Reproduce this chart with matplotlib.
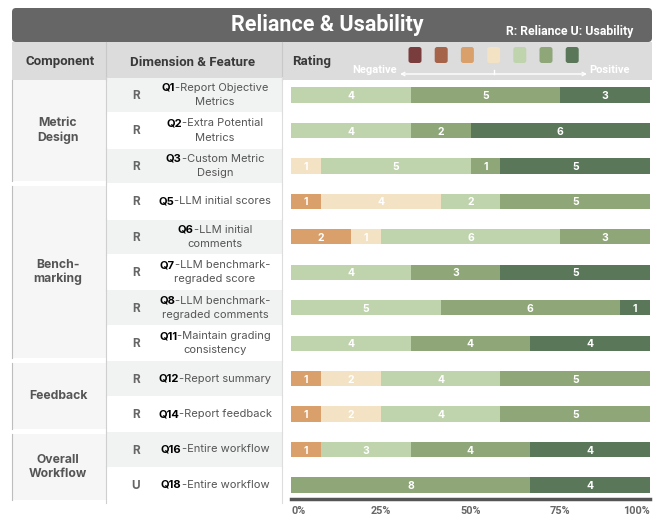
import numpy as np
import matplotlib
matplotlib.use('Agg')
import matplotlib.pyplot as plt
from matplotlib.patches import FancyBboxPatch, Rectangle
from matplotlib.offsetbox import TextArea, HPacker, VPacker, AnnotationBbox

plt.rcParams['font.family'] = ['Inter', 'DejaVu Sans']

# data
questions = ['Q1', 'Q2', 'Q3', 'Q5', 'Q6', 'Q7', 'Q8', 'Q11', 'Q12', 'Q14', 'Q16', 'Q18']
kinds = ['R', 'R', 'R', 'R', 'R', 'R', 'R', 'R', 'R', 'R', 'R', 'U']
features = [
    ['-Report Objective', 'Metrics'],
    ['-Extra Potential', 'Metrics'],
    ['-Custom Metric', 'Design'],
    ['-LLM initial scores'],
    ['-LLM initial', 'comments'],
    ['-LLM benchmark-', 'regraded score'],
    ['-LLM benchmark-', 'regraded comments'],
    ['-Maintain grading', 'consistency'],
    ['-Report summary'],
    ['-Report feedback'],
    ['-Entire workflow'],
    ['-Entire workflow'],
]
components = ['Metric\nDesign', 'Bench-\nmarking', 'Feedback', 'Overall\nWorkflow']
comp_rows = [(0, 2), (3, 7), (8, 9), (10, 11)]
# counts for rating levels 1..7 (negative -> positive)
counts = np.array([
    [0, 0, 0, 0, 4, 5, 3],
    [0, 0, 0, 0, 4, 2, 6],
    [0, 0, 0, 1, 5, 1, 5],
    [0, 0, 1, 4, 2, 5, 0],
    [0, 0, 2, 1, 6, 3, 0],
    [0, 0, 0, 0, 4, 3, 5],
    [0, 0, 0, 0, 5, 6, 1],
    [0, 0, 0, 0, 4, 4, 4],
    [0, 0, 1, 2, 4, 5, 0],
    [0, 0, 1, 2, 4, 5, 0],
    [0, 0, 1, 0, 3, 4, 4],
    [0, 0, 0, 0, 0, 8, 4],
])
colors = ['#7a3d3d', '#a5644a', '#d9a06b', '#f3e2c3', '#bfd4ad', '#8ea678', '#5a775a']
ticks = [0, 0.25, 0.5, 0.75, 1.0]
tick_labels = ['0%', '25%', '50%', '75%', '100%']

fig = plt.figure(figsize=(6.6, 5.16), dpi=100)
bg = fig.add_axes([0, 0, 1, 1])
bg.set_xlim(0, 660)
bg.set_ylim(516, 0)
bg.axis('off')

y0, dy = 95, 35.45
def rowc(i):
    return y0 + i * dy

roboto = ['Roboto', 'DejaVu Sans']

# title bar
bg.add_patch(FancyBboxPatch((12, 8), 640, 34, boxstyle='round,pad=0,rounding_size=4',
                            fc='#666666', ec='none'))
bg.text(327, 25, 'Reliance & Usability', color='white', fontsize=15.5, fontweight='bold',
        ha='center', va='center', family=roboto)
bg.text(633, 31, 'R: Reliance U: Usability', color='white', fontsize=8.8, fontweight='bold',
        ha='right', va='center', family=roboto)

# header row
bg.add_patch(Rectangle((12, 42), 640, 38, fc='#dcdcdc', ec='none'))
bg.plot([106, 106], [42, 80], color='#c8c8c8', lw=0.8)
bg.plot([282, 282], [42, 80], color='#c8c8c8', lw=0.8)
hdr = dict(color='#3a3a3a', fontsize=9.5, fontweight='bold', va='center', family=roboto)
bg.text(60, 62, 'Component', ha='center', **hdr)
bg.text(193, 62, 'Dimension & Feature', ha='center', **hdr)
bg.text(292, 62, 'Rating', ha='left', **hdr)

# legend swatches
for k, c in enumerate(colors):
    cx = 415 + k * 26.2
    bg.add_patch(FancyBboxPatch((cx - 6.5, 47), 13, 16, boxstyle='round,pad=0,rounding_size=2.5',
                                fc=c, ec='none'))
bg.annotate('', xy=(400, 74), xytext=(587, 74),
            arrowprops=dict(arrowstyle='<->', color='white', lw=1, shrinkA=0, shrinkB=0,
                            mutation_scale=6))
bg.plot([494, 494], [70, 74], color='white', lw=1)
bg.text(375, 70, 'Negative', color='white', fontsize=8, fontweight='bold', ha='center',
        va='center', family=roboto)
bg.text(610, 70, 'Positive', color='white', fontsize=8, fontweight='bold', ha='center',
        va='center', family=roboto)

# component column
gaps = 2.5
for (a, b), name in zip(comp_rows, components):
    top = rowc(a) - dy / 2 + gaps
    bot = rowc(b) + dy / 2 - gaps
    if a == 0:
        top = 80
    bg.add_patch(Rectangle((12, top), 94, bot - top, fc='#f6f6f6', ec='none'))
    bg.plot([12, 12], [top, bot], color='#bdbdbd', lw=0.8)
    bg.text(58, (top + bot) / 2, name, ha='center', va='center', fontsize=8.8,
            fontweight='bold', color='#555555', linespacing=1.2)

# dimension column
for i in range(len(questions)):
    top = rowc(i) - dy / 2
    fc = '#f1f3f2' if i % 2 == 0 else 'white'
    bg.add_patch(Rectangle((106, top + 0.5), 176, dy - 1, fc=fc, ec='none'))
    bg.plot([106, 106], [top, top + dy], color='#cfcfcf', lw=0.8)
    bg.plot([282, 282], [top, top + dy], color='#dddddd', lw=0.8)
    bg.text(136, rowc(i) + 1, kinds[i], ha='center', va='center', fontsize=8.5,
            fontweight='bold', color='#666666')
    lines = features[i]
    first = HPacker(children=[
        TextArea(questions[i], textprops=dict(fontsize=8, fontweight='bold', color='black')),
        TextArea(lines[0], textprops=dict(fontsize=8, color='#555555')),
    ], align='baseline', pad=0, sep=0)
    kids = [first]
    if len(lines) > 1:
        kids.append(TextArea(lines[1], textprops=dict(fontsize=8, color='#555555')))
    box = VPacker(children=kids, align='center', pad=0, sep=3)
    ab = AnnotationBbox(box, (215, rowc(i)), xycoords='data', frameon=False,
                        box_alignment=(0.5, 0.5), pad=0)
    bg.add_artist(ab)

# bars
ax_top, ax_bot = 77, 499
ax = fig.add_axes([291 / 660, 1 - ax_bot / 516, (650 - 291) / 660, (ax_bot - ax_top) / 516])
ax.patch.set_alpha(0)
ypos = np.arange(len(questions))
totals = counts.sum(axis=1)
left = np.zeros(len(questions))
for k, c in enumerate(colors):
    w = counts[:, k] / totals
    ax.barh(ypos, w, left=left, height=0.43, color=c, edgecolor='none')
    for i in range(len(questions)):
        if counts[i, k] > 0:
            ax.text(left[i] + w[i] / 2, ypos[i] + 0.03, str(counts[i, k]), ha='center',
                    va='center', color='white', fontsize=7.5, fontweight='bold')
    left = left + w

ax.set_xlim(0, 1)
ax.set_ylim((ax_bot - y0) / dy, (ax_top - y0) / dy)
ax.set_yticks([])
ax.set_xticks(ticks)
ax.set_xticklabels(tick_labels, fontsize=7.8, fontweight='bold', color='#666666',
                   family=roboto)
ax.get_xticklabels()[0].set_ha('left')
ax.get_xticklabels()[-1].set_ha('right')
ax.tick_params(axis='x', length=0, pad=5)
for s in ['top', 'right', 'left']:
    ax.spines[s].set_visible(False)
ax.spines['bottom'].set_color('#555555')
ax.spines['bottom'].set_linewidth(2.5)

plt.savefig('out.png', dpi=100)
